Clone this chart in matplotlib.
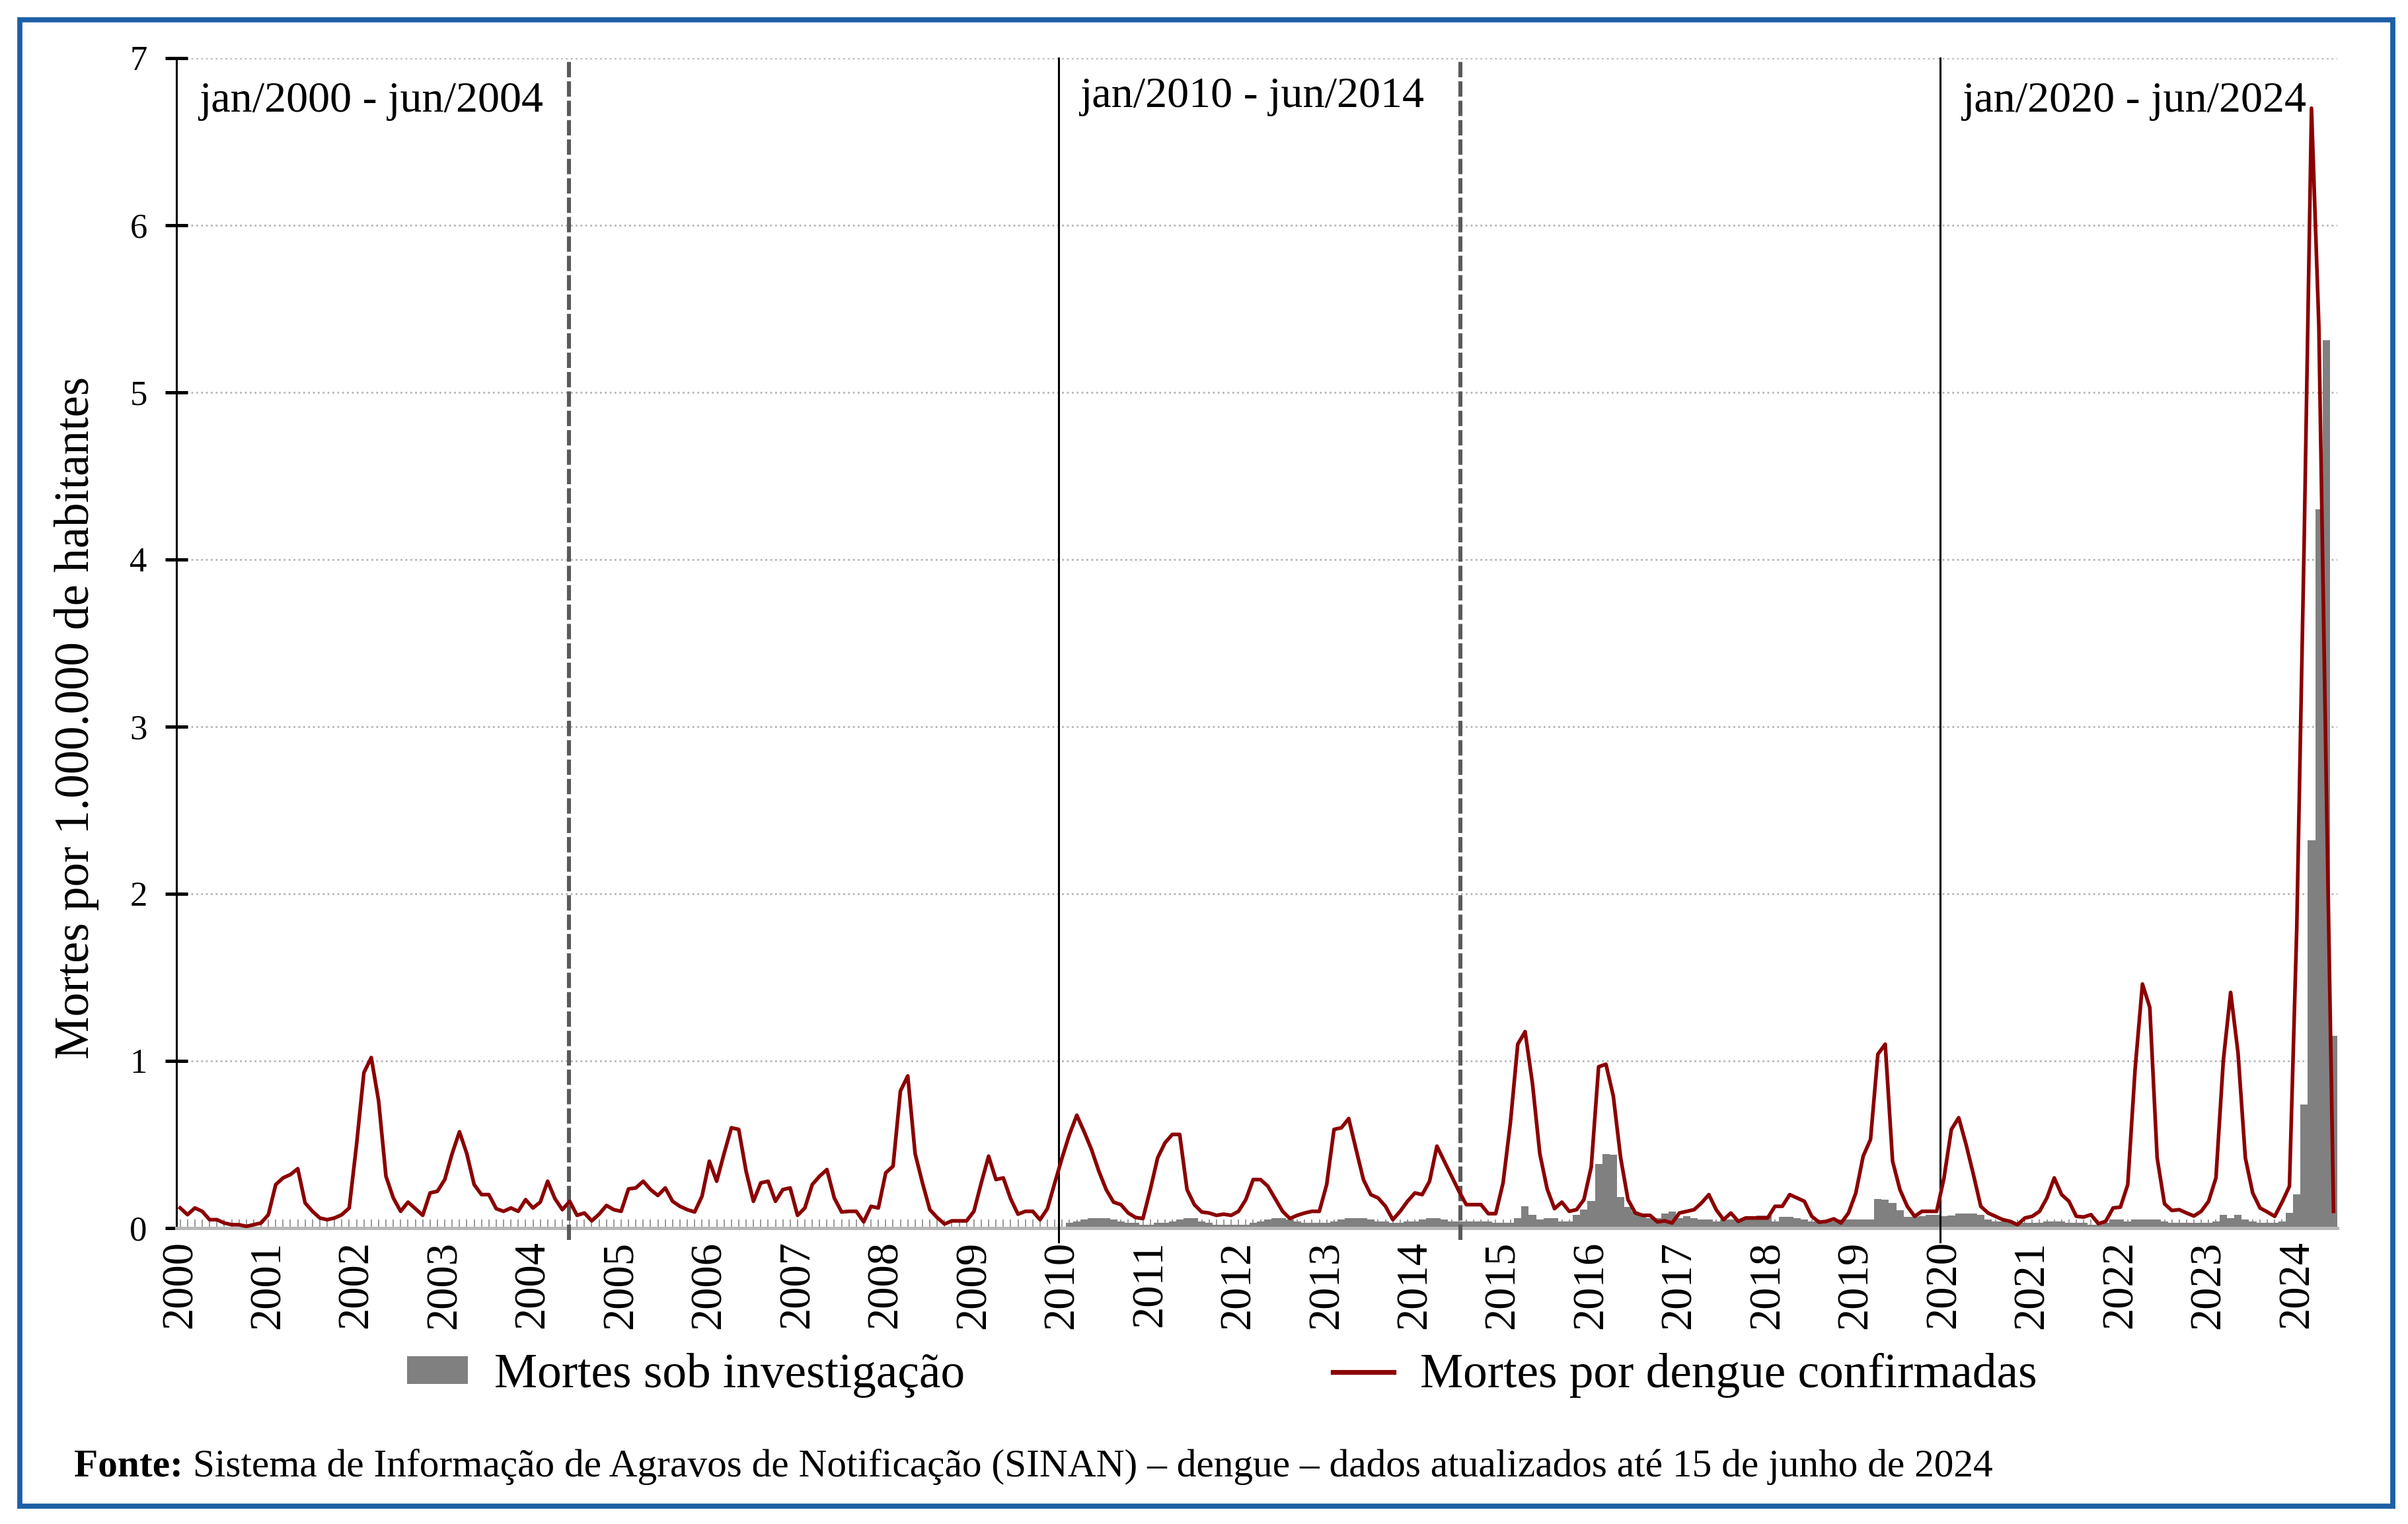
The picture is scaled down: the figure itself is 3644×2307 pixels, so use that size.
import numpy as np
import matplotlib.pyplot as plt
from matplotlib.patches import Rectangle

plt.rcParams['font.family'] = ['Liberation Serif', 'DejaVu Serif']

# monthly values, jan/2000 - jun/2024 (deaths per 1,000,000 inhabitants)
confirmed = [
    0.12, 0.08, 0.12, 0.10, 0.05, 0.05, 0.03, 0.02, 0.02, 0.01, 0.02, 0.03,        # 2000
    0.08, 0.26, 0.30, 0.32, 0.355, 0.15, 0.10, 0.06, 0.05, 0.06, 0.08, 0.12,       # 2001
    0.50, 0.93, 1.02, 0.76, 0.31, 0.18, 0.10, 0.155, 0.116, 0.076, 0.21, 0.22,     # 2002
    0.29, 0.445, 0.576, 0.445, 0.26, 0.20, 0.20, 0.116, 0.10, 0.12, 0.10, 0.17,    # 2003
    0.12, 0.155, 0.28, 0.175, 0.11, 0.16, 0.076, 0.09, 0.043, 0.083, 0.135, 0.11,  # 2004
    0.10, 0.234, 0.24, 0.28, 0.23, 0.195, 0.24, 0.16, 0.13, 0.11, 0.096, 0.19,     # 2005
    0.40, 0.28, 0.445, 0.60, 0.59, 0.34, 0.16, 0.27, 0.28, 0.16, 0.23, 0.24,       # 2006
    0.076, 0.12, 0.26, 0.31, 0.35, 0.18, 0.096, 0.10, 0.10, 0.037, 0.13, 0.12,     # 2007
    0.33, 0.37, 0.82, 0.91, 0.445, 0.27, 0.11, 0.063, 0.024, 0.043, 0.043, 0.043,  # 2008
    0.10, 0.27, 0.43, 0.29, 0.30, 0.175, 0.083, 0.10, 0.10, 0.05, 0.116, 0.27,     # 2009
    0.42, 0.56, 0.675, 0.576, 0.47, 0.34, 0.23, 0.155, 0.14, 0.09, 0.063, 0.057,   # 2010
    0.23, 0.42, 0.51, 0.56, 0.56, 0.23, 0.14, 0.096, 0.09, 0.076, 0.083, 0.076,    # 2011
    0.10, 0.17, 0.29, 0.29, 0.25, 0.175, 0.10, 0.057, 0.076, 0.09, 0.10, 0.10,     # 2012
    0.26, 0.59, 0.60, 0.655, 0.47, 0.29, 0.20, 0.18, 0.13, 0.05, 0.10, 0.16,       # 2013
    0.21, 0.20, 0.28, 0.49, 0.40, 0.31, 0.22, 0.14, 0.14, 0.14, 0.086, 0.086,      # 2014
    0.27, 0.63, 1.10, 1.175, 0.865, 0.445, 0.234, 0.116, 0.155, 0.10, 0.11, 0.17,  # 2015
    0.366, 0.965, 0.98, 0.79, 0.42, 0.17, 0.09, 0.076, 0.076, 0.037, 0.043, 0.03,  # 2016
    0.09, 0.10, 0.11, 0.15, 0.20, 0.11, 0.05, 0.09, 0.04, 0.06, 0.06, 0.06,        # 2017
    0.06, 0.13, 0.13, 0.20, 0.18, 0.16, 0.07, 0.035, 0.04, 0.055, 0.03, 0.09,      # 2018
    0.21, 0.43, 0.53, 1.04, 1.10, 0.40, 0.23, 0.13, 0.07, 0.10, 0.10, 0.10,        # 2019
    0.30, 0.59, 0.66, 0.50, 0.32, 0.13, 0.09, 0.07, 0.05, 0.04, 0.02, 0.06,        # 2020
    0.07, 0.10, 0.18, 0.30, 0.20, 0.16, 0.07, 0.066, 0.08, 0.026, 0.04, 0.12,      # 2021
    0.125, 0.26, 0.95, 1.46, 1.32, 0.42, 0.145, 0.105, 0.11, 0.09, 0.072, 0.10,    # 2022
    0.16, 0.30, 1.00, 1.41, 1.05, 0.42, 0.21, 0.12, 0.096, 0.07, 0.155, 0.25,      # 2023
    1.80, 4.10, 6.70, 5.40, 2.70, 0.10,                                            # 2024
]

investigation = [0.0] * 120 + [                                                    # 2000-2009
    0.00, 0.03, 0.04, 0.05, 0.06, 0.06, 0.06, 0.05, 0.04, 0.03, 0.03, 0.02,        # 2010
    0.02, 0.03, 0.03, 0.04, 0.05, 0.06, 0.06, 0.04, 0.03, 0.02, 0.02, 0.02,        # 2011
    0.02, 0.02, 0.03, 0.04, 0.05, 0.06, 0.06, 0.05, 0.04, 0.03, 0.03, 0.03,        # 2012
    0.03, 0.04, 0.05, 0.06, 0.06, 0.06, 0.05, 0.04, 0.04, 0.03, 0.03, 0.04,        # 2013
    0.04, 0.05, 0.06, 0.06, 0.05, 0.04, 0.04, 0.04, 0.04, 0.04, 0.04, 0.03,        # 2014
    0.03, 0.03, 0.06, 0.13, 0.08, 0.05, 0.06, 0.06, 0.04, 0.04, 0.08, 0.11,        # 2015
    0.16, 0.385, 0.444, 0.44, 0.185, 0.125, 0.10, 0.07, 0.06, 0.06, 0.085, 0.10,   # 2016
    0.06, 0.07, 0.06, 0.05, 0.05, 0.04, 0.05, 0.05, 0.05, 0.06, 0.06, 0.075,       # 2017
    0.075, 0.04, 0.066, 0.066, 0.06, 0.05, 0.04, 0.04, 0.04, 0.04, 0.05, 0.05,     # 2018
    0.05, 0.05, 0.05, 0.174, 0.17, 0.15, 0.105, 0.066, 0.066, 0.07, 0.08, 0.08,    # 2019
    0.07, 0.075, 0.085, 0.085, 0.085, 0.08, 0.05, 0.04, 0.04, 0.03, 0.03, 0.03,    # 2020
    0.03, 0.03, 0.04, 0.04, 0.04, 0.03, 0.03, 0.03, 0.02, 0.02, 0.03, 0.05,        # 2021
    0.05, 0.04, 0.05, 0.05, 0.05, 0.05, 0.04, 0.03, 0.03, 0.03, 0.03, 0.03,        # 2022
    0.03, 0.04, 0.08, 0.06, 0.08, 0.05, 0.04, 0.03, 0.03, 0.03, 0.04, 0.09,        # 2023
    0.20, 0.74, 2.32, 4.30, 5.31, 1.15,                                            # 2024
]

years = list(range(2000, 2025))
period_labels = ["jan/2000 - jun/2004", "jan/2010 - jun/2014", "jan/2020 - jun/2024"]
period_x = [2000.26, 2010.25, 2020.25]
period_y = [6.74, 6.77, 6.74]
solid_lines = [2010, 2020]
dashed_lines = [2004.45, 2014.56]

n = len(confirmed)
x = 2000 + (np.arange(n) + 0.5) / 12

fig = plt.figure(figsize=(18.22, 11.535), dpi=200)
ax = fig.add_axes([0.0733, 0.1942, 0.8973, 0.7677])

bars = ax.bar(x, investigation, width=1 / 12, color='#808080', linewidth=0,
              label='Mortes sob investigação', zorder=2)
line, = ax.plot(x, confirmed, color='#8b0000', lw=2.0,
                label='Mortes por dengue confirmadas', zorder=4)

for xv in solid_lines:
    ax.axvline(xv, ymin=-0.012, color='black', lw=1.1, zorder=3, clip_on=False)
for xv in dashed_lines:
    ax.axvline(xv, ymin=-0.010, color='#5a5a5a', lw=2.2, linestyle=(0, (3.8, 1.0)),
               zorder=3, clip_on=False)

for lab, px, py in zip(period_labels, period_x, period_y):
    ax.text(px, py, lab, fontsize=23.8, ha='left', va='center', zorder=5)

ax.set_xlim(2000, 2024.5)
ax.set_ylim(0, 7)
ax.set_yticks(range(0, 8))
ax.yaxis.grid(True, linestyle=':', color='#b5b5b5', lw=1.0)
ax.set_axisbelow(True)

ax.set_xticks([y + 0.5 / 12 for y in years])
ax.set_xticklabels([str(y) for y in years], rotation=90, fontsize=24)
ax.set_xticks(x, minor=True)
ax.xaxis.remove_overlapping_locs = False
ax.tick_params(axis='x', which='major', length=0, pad=7)
ax.tick_params(axis='x', which='minor', direction='in', length=4.7, width=0.7, color='#9a9a9a')
ax.tick_params(axis='y', direction='inout', length=12, width=1.8, labelsize=19, pad=10)

for s in ['top', 'right']:
    ax.spines[s].set_visible(False)
ax.spines['left'].set_color('black')
ax.spines['left'].set_linewidth(1.1)
ax.spines['bottom'].set_color('#b8b8b8')
ax.spines['bottom'].set_linewidth(1.8)

fig.text(0.0318, 0.529, 'Mortes por 1.000.000 de habitantes', rotation=90,
         fontsize=26.3, ha='center', va='center')

leg = fig.legend([bars, line], ['Mortes sob investigação', 'Mortes por dengue confirmadas'],
                 loc='center left', bbox_to_anchor=(0.169, 0.0975), ncol=2,
                 frameon=False, fontsize=26.4, handlelength=1.25, handleheight=0.5,
                 handletextpad=0.55, columnspacing=7.6, borderpad=0, borderaxespad=0)
leg.get_lines()[0].set_linewidth(2.6)

t1 = fig.text(0.0307, 0.0375, 'Fonte:', fontsize=21.4, fontweight='bold', va='center')
fig.canvas.draw()
bb = t1.get_window_extent()
fig.text(bb.x1 / fig.bbox.width, 0.0375,
         ' Sistema de Informação de Agravos de Notificação (SINAN) – dengue – '
         'dados atualizados até 15 de junho de 2024', fontsize=21.4, va='center')

fig.patches.append(Rectangle((30 / 3644, 1 - 2280 / 2307), (3621 - 30) / 3644,
                             (2280 - 30) / 2307, transform=fig.transFigure,
                             fill=False, edgecolor='#1d5fa6', lw=2.8))

fig.savefig('out.png', dpi=200)
